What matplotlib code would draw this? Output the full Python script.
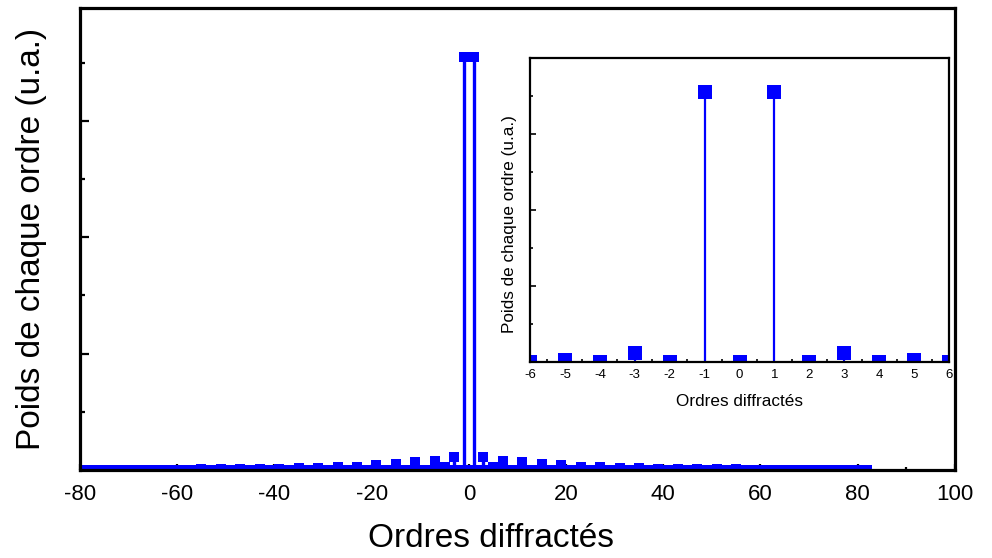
import matplotlib
matplotlib.use("Agg")
import matplotlib.pyplot as plt
from matplotlib.ticker import MultipleLocator, NullFormatter

# --------------------------------------------------
# Data: weight of each diffracted order (arbitrary units)
# --------------------------------------------------
orders = list(range(-82, 83))

# orders with a visible weight; every other order is ~0
lit_orders = [-59, -55, -51, -47, -43, -39, -35, -31, -27, -23, -19, -15,
              -11, -7, -5, -3, -1, 1, 3, 5, 7, 11, 15, 19, 23, 27, 31,
              35, 39, 43, 47, 51, 55, 59]
lit_weights = [0.0004, 0.0005, 0.0005, 0.0006, 0.0009, 0.0009, 0.0017,
               0.0017, 0.0026, 0.0026, 0.0043, 0.0052, 0.0069, 0.0078,
               0.0026, 0.0112, 0.355, 0.355, 0.0112, 0.0026, 0.0078,
               0.0069, 0.0052, 0.0043, 0.0026, 0.0026, 0.0017, 0.0017,
               0.0009, 0.0009, 0.0008, 0.0005, 0.0005, 0.0004]

lookup = dict(zip(lit_orders, lit_weights))
weights = [lookup.get(n, 0.0) for n in orders]

main_xticks = [-80, -60, -40, -20, 0, 20, 40, 60, 80, 100]
inset_xticks = [-6, -5, -4, -3, -2, -1, 0, 1, 2, 3, 4, 5, 6]

xlabel = "Ordres diffractés"
ylabel = "Poids de chaque ordre (u.a.)"

plt.rcParams["font.family"] = ["Liberation Sans", "DejaVu Sans"]
plt.rcParams["axes.unicode_minus"] = False
blue = "#0000ff"

fig = plt.figure(figsize=(9.92, 5.58), dpi=100)

# --------------------------------------------------
# Main plot
# --------------------------------------------------
ax = fig.add_axes([0.0806, 0.1577, 0.882, 0.828])
ax.vlines(orders, 0, weights, color=blue, lw=2.4)
ax.plot(orders, weights, "s", color=blue, ms=7.4, mew=0)

ax.set_xlim(-80, 100)
ax.set_ylim(0, 0.397)
ax.set_xticks(main_xticks)
ax.xaxis.set_minor_locator(MultipleLocator(10))
ax.set_yticks([0.1, 0.2, 0.3])
ax.yaxis.set_minor_locator(MultipleLocator(0.05))
ax.yaxis.set_major_formatter(NullFormatter())

for side in ax.spines.values():
    side.set_linewidth(2.3)

ax.tick_params(axis="both", which="both", direction="in", width=1.6,
               top=False, right=False)
ax.tick_params(axis="x", which="major", length=4.5, labelsize=16, pad=10)
ax.tick_params(axis="x", which="minor", length=2.5)
ax.tick_params(axis="y", which="major", length=6.5)
ax.tick_params(axis="y", which="minor", length=3.5)

ax.set_xlabel(xlabel, fontsize=24)
ax.set_ylabel(ylabel, fontsize=24)
ax.xaxis.set_label_coords(0.47, -0.115)
ax.yaxis.set_label_coords(-0.038, 0.5)

# --------------------------------------------------
# Inset: zoom on the central orders
# --------------------------------------------------
ins = fig.add_axes([0.5343, 0.3513, 0.4224, 0.5448])
ins.vlines(orders, 0, weights, color=blue, lw=1.6)
ins.plot(orders, weights, "s", color=blue, ms=9.5, mew=0)

ins.set_xlim(-6, 6)
ins.set_ylim(0, 0.4)
ins.set_xticks(inset_xticks)
ins.xaxis.set_minor_locator(MultipleLocator(0.5))
ins.set_yticks([0.1, 0.2, 0.3])
ins.yaxis.set_minor_locator(MultipleLocator(0.05))
ins.yaxis.set_major_formatter(NullFormatter())

for side in ins.spines.values():
    side.set_linewidth(1.6)

ins.tick_params(axis="both", which="both", direction="in", width=1.2,
                top=False, right=False)
ins.tick_params(axis="x", which="major", length=3, labelsize=9.5, pad=5)
ins.tick_params(axis="x", which="minor", length=2)
ins.tick_params(axis="y", which="major", length=4.5)
ins.tick_params(axis="y", which="minor", length=2.5)

ins.set_xlabel(xlabel, fontsize=12.3)
ins.set_ylabel(ylabel, fontsize=12.3)
ins.xaxis.set_label_coords(0.5, -0.105)
ins.yaxis.set_label_coords(-0.031, 0.454)

fig.savefig("out.png", dpi=100)
